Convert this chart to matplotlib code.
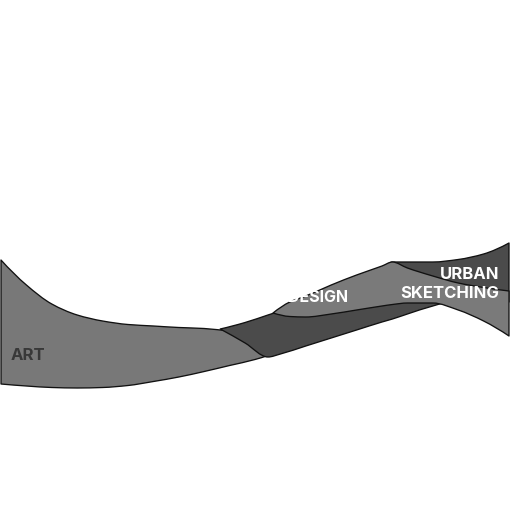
import numpy as np
import matplotlib
matplotlib.use("Agg")
import matplotlib.pyplot as plt
from matplotlib.path import Path
from matplotlib.patches import PathPatch

#------------------------------------------------------------------------------
# Data: each ribbon is given by its lower and upper edge over time
#------------------------------------------------------------------------------

series = ["ART", "URBAN\nSKETCHING", "DESIGN"]

art_t   = [0, 1, 2, 3, 4, 5, 6, 7, 8, 9, 10, 11, 12]
art_top = [132, 119.5, 110, 104.5, 101.5, 99.75, 99, 98.25, 97.75, 96.5, 95.5, 94.5, 93]
art_bot = [70, 69, 68.25, 68, 68.25, 69.25, 71.25, 73.5, 76.25, 79.25, 82.25, 86.5, 93]

urban_t   = [8.63, 9.61, 10.51, 11, 12, 13, 14, 15, 15.41, 16, 17, 18, 19, 20]
urban_top = [97.5, 100.75, 104.5, 106.5, 110.5, 114.5, 119.5, 127, 131, 131, 131, 132.25, 135, 140.5]
urban_bot = [97.5, 90.5, 83.5, 85, 89, 93, 97, 101, 102.5, 105, 109, 112, 112, 111]

design_t   = [10.71, 11.37, 12, 13, 14, 15, 15.41, 16, 17, 18, 19, 20]
design_top = [105.5, 111, 114, 119.5, 124.5, 129, 131, 128, 124, 120.5, 118.25, 116.5]
design_bot = [105.5, 103.75, 103.5, 105, 107, 109, 109.75, 110.5, 110.5, 107, 101.5, 94]

colors = {"ART": "#787878", "URBAN\nSKETCHING": "#4b4b4b", "DESIGN": "#7a7a7a"}

#------------------------------------------------------------------------------

def pchip_slopes(x, y):
    x = np.asarray(x, float); y = np.asarray(y, float)
    h = np.diff(x); d = np.diff(y) / h
    n = len(x)
    m = np.zeros(n)
    if n == 2:
        m[:] = d[0]
        return m
    for k in range(1, n - 1):
        if d[k-1] * d[k] > 0:
            w1 = 2*h[k] + h[k-1]
            w2 = h[k] + 2*h[k-1]
            m[k] = (w1 + w2) / (w1/d[k-1] + w2/d[k])
    def end(h0, h1, d0, d1):
        s = ((2*h0 + h1)*d0 - h0*d1) / (h0 + h1)
        if np.sign(s) != np.sign(d0): return 0.0
        if np.sign(d0) != np.sign(d1) and abs(s) > 3*abs(d0): return 3*d0
        return s
    m[0] = end(h[0], h[1], d[0], d[1])
    m[-1] = end(h[-1], h[-2], d[-1], d[-2])
    return m

def edge(x, y, reverse=False):
    x = list(x); y = list(y)
    m = list(pchip_slopes(x, y))
    if reverse:
        x, y, m = x[::-1], y[::-1], m[::-1]
    verts, codes = [], []
    for i in range(len(x) - 1):
        h = x[i+1] - x[i]
        verts += [(x[i] + h/3, y[i] + m[i]*h/3),
                  (x[i+1] - h/3, y[i+1] - m[i+1]*h/3),
                  (x[i+1], y[i+1])]
        codes += [Path.CURVE4] * 3
    return verts, codes

def ribbon(ax, t, top, bot, color, z):
    verts = [(t[0], top[0])]
    codes = [Path.MOVETO]
    v, c = edge(t, top)
    verts += v; codes += c
    verts.append((t[-1], bot[-1])); codes.append(Path.LINETO)
    v, c = edge(t, bot, reverse=True)
    verts += v; codes += c
    verts.append((t[0], top[0])); codes.append(Path.CLOSEPOLY)
    patch = PathPatch(Path(verts, codes), facecolor=color, edgecolor="#111111",
                      linewidth=0.95, joinstyle="round", zorder=z)
    ax.add_patch(patch)

#------------------------------------------------------------------------------
# Plot
#------------------------------------------------------------------------------

plt.rcParams["font.family"] = ["Inter", "DejaVu Sans"]

fig = plt.figure(figsize=(5.11, 5.24), dpi=100)
ax = fig.add_axes([0, 0, 1, 1])
ax.set_xlim(-1/25.4, 510/25.4)
ax.set_ylim(0, 262)
ax.axis("off")

ribbon(ax, art_t, art_top, art_bot, colors["ART"], 1)
ribbon(ax, urban_t, urban_top, urban_bot, colors["URBAN\nSKETCHING"], 2)
ribbon(ax, design_t, design_top, design_bot, colors["DESIGN"], 3)

ax.text(0.36, 84, "ART", fontsize=12, fontweight="bold", color="#383838",
        ha="left", va="center", zorder=5)
ax.text(12.48, 113.5, "DESIGN", fontsize=11.5, fontweight="bold", color="white",
        ha="center", va="center", zorder=5)
ax.text(19.62, 120, "URBAN\nSKETCHING", fontsize=12, fontweight="bold", color="white",
        ha="right", va="center", multialignment="right", linespacing=1.4, zorder=5)

fig.savefig("out.png", dpi=100)
